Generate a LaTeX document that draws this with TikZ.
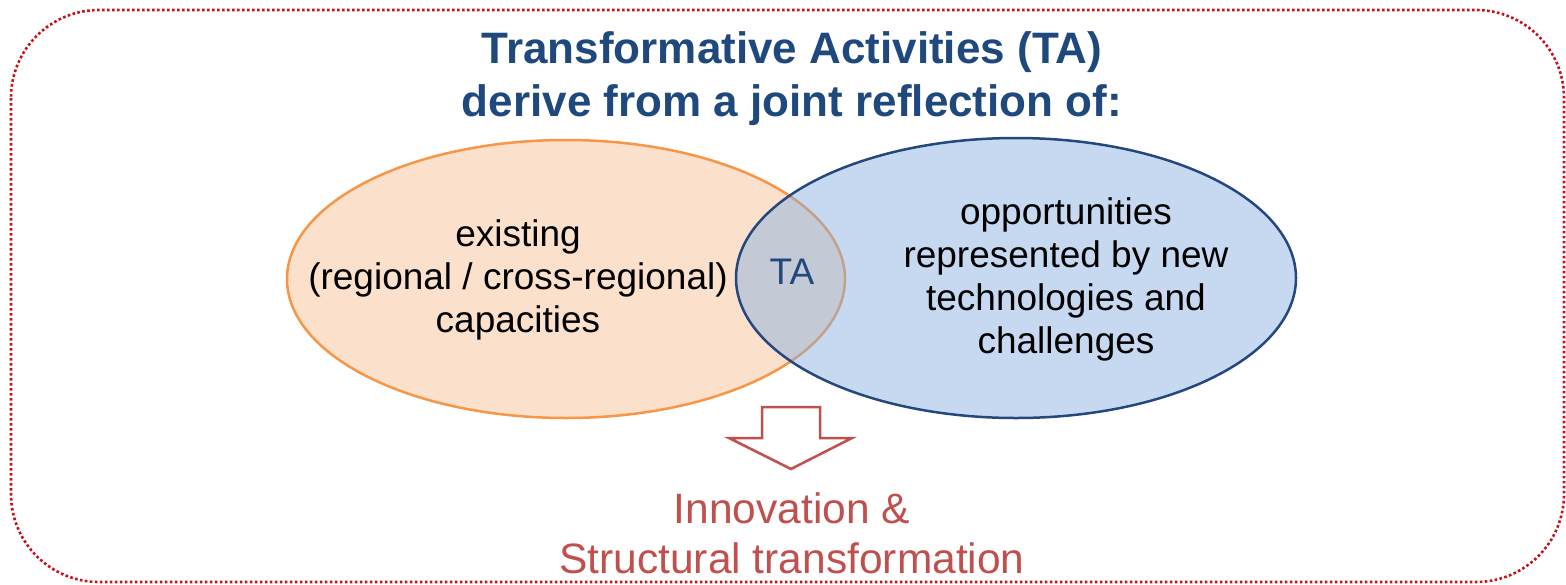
\documentclass[tikz,border=0pt]{standalone}
\usepackage{fontspec}
\setmainfont{Liberation Sans}
\definecolor{titleblue}{RGB}{31,73,125}
\definecolor{ringblue}{RGB}{36,72,125}
\definecolor{fillblue}{RGB}{136,176,224}
\definecolor{ringorange}{RGB}{247,150,70}
\definecolor{fillorange}{RGB}{251,224,204}
\definecolor{outred}{RGB}{192,80,77}
\definecolor{frame}{RGB}{200,16,24}

\begin{document}
\begin{tikzpicture}[x=1pt,y=-1pt,
    body/.style={align=center,font=\fontsize{37}{43}\selectfont},
    headline/.style={align=center,text=titleblue,font=\fontsize{44}{53}\selectfont\bfseries},
    result/.style={align=center,text=outred,font=\fontsize{42.5}{50}\selectfont}]
  \useasboundingbox (0,0) rectangle (1566,584);

  % outer frame
  \draw[frame,line width=2.6pt,dash pattern=on 2.6pt off 2.4pt,rounded corners=88pt] (11,10) rectangle (1564,582);

  \node[headline] at (792,79) (title) {Transformative Activities (TA)\\derive from a joint reflection of:};

  % the two sets
  \draw[ringorange,fill=fillorange,line width=2.5pt] (566,279) ellipse (279 and 139);
  \draw[ringblue,fill=fillblue,fill opacity=0.48,line width=2.5pt] (1016,278) ellipse (280 and 140);

  \node[body] at (518,280) (capa) {existing\\(regional / cross-regional)\\capacities};
  \node[body] at (1066,279) (oppo) {opportunities\\represented by new\\technologies and\\challenges};
  \node[body,text=titleblue] at (792,272) (ta) {TA};

  % block arrow
  \coordinate (tip) at (791,469);
  \draw[outred,line width=2.5pt,line join=miter]
    (762,407) -- (820,407) -- (820,438) -- (852,438) -- (tip) -- (729,438) -- (762,438) -- cycle;

  \node[result] at (792,533) (inno) {Innovation \&\\Structural transformation};
\end{tikzpicture}
\end{document}
